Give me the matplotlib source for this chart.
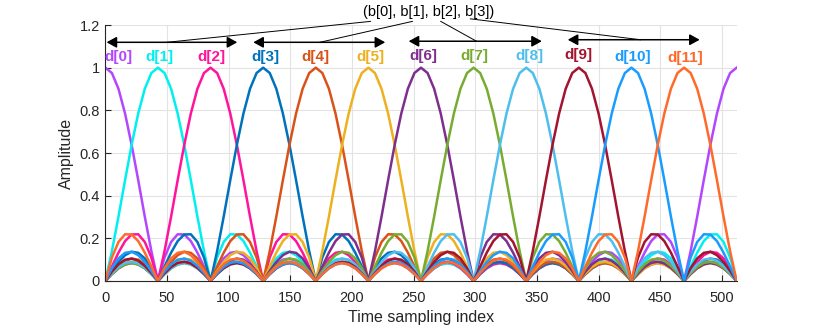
import numpy as np
import matplotlib
matplotlib.use('Agg')
import matplotlib.pyplot as plt

plt.rcParams['font.family'] = ['Liberation Sans', 'DejaVu Sans']

# one pulse: amplitude every 1/8 of a lobe (512/96 samples),
# from the peak out to the middle of the period; the other half is its mirror image
half_pulse = [1.0, 0.975, 0.901, 0.785, 0.638, 0.473, 0.302, 0.140, 0.0,
              0.110, 0.183, 0.219, 0.218, 0.187, 0.133, 0.068, 0.0,
              0.060, 0.106, 0.132, 0.137, 0.121, 0.089, 0.047, 0.0,
              0.044, 0.078, 0.100, 0.105, 0.095, 0.071, 0.038, 0.0,
              0.036, 0.066, 0.085, 0.090, 0.082, 0.062, 0.033, 0.0,
              0.033, 0.060, 0.078, 0.084, 0.077, 0.059, 0.032, 0.0]
period = 512
pulse_labels = ['d[0]', 'd[1]', 'd[2]', 'd[3]', 'd[4]', 'd[5]',
                'd[6]', 'd[7]', 'd[8]', 'd[9]', 'd[10]', 'd[11]']
group_label = '(b[0], b[1], b[2], b[3])'

colors = ['#b347ff', '#00f0f0', '#ff149b', '#0072bd', '#d95319', '#edb120',
          '#7e2f8e', '#77ac30', '#4dbeee', '#a2142f', '#1a9cff', '#ff6a2a']
label_x = [11, 44, 86, 130, 170, 215, 258, 299, 344, 384, 428, 470]
label_y = [1.05, 1.05, 1.05, 1.05, 1.05, 1.05, 1.055, 1.055, 1.055, 1.06, 1.05, 1.045]

# arrows (x0, x1, y) and the leader lines from the text to each arrow
arrows = [(1, 107, 1.119), (120, 227, 1.119), (246, 354, 1.124), (375, 482, 1.131)]
leaders = [((215, 1.217), (50, 1.119)), ((249, 1.217), (174, 1.119)),
           ((272, 1.217), (301, 1.124)), ((296, 1.229), (434, 1.131))]

n_lobe = 8
profile = np.array(half_pulse[:-1] + half_pulse[:0:-1])  # one full period, 96 points
x = np.arange(len(profile) + 1) * period / len(profile)

fig = plt.figure(figsize=(8.14, 3.27), dpi=100)
ax = fig.add_axes([0.1294, 0.1407, 0.7756, 0.7828])

for k, (lab, c) in enumerate(zip(pulse_labels, colors)):
    y = np.roll(profile, k * n_lobe)
    y = np.append(y, y[0])
    ax.plot(x, y, color=c, linewidth=1.8, solid_joinstyle='round')
    ax.text(label_x[k], label_y[k], lab, color=c, fontsize=11, fontweight='bold',
            ha='center', va='center')

for x0, x1, yy in arrows:
    ax.annotate('', xy=(x1, yy), xytext=(x0, yy),
                arrowprops=dict(arrowstyle='<|-|>,head_length=0.6,head_width=0.33',
                                color='black', lw=1.1, shrinkA=0, shrinkB=0),
                annotation_clip=False)
for (sx, sy), (ex, ey) in leaders:
    ax.plot([sx, ex], [sy, ey], color='black', linewidth=0.7, clip_on=False)
ax.text(262, 1.262, group_label, fontsize=10.5, ha='center', va='center')

ax.set_xlim(0, period)
ax.set_ylim(0, 1.2)
ax.set_xticks(np.arange(0, 501, 50))
ax.set_yticks([0, 0.2, 0.4, 0.6, 0.8, 1.0, 1.2])
ax.set_yticklabels(['0', '0.2', '0.4', '0.6', '0.8', '1', '1.2'])
ax.set_xlabel('Time sampling index', fontsize=11.5, color='#262626', labelpad=4)
ax.set_ylabel('Amplitude', fontsize=11.5, color='#262626', labelpad=4)
ax.grid(True, color='#e3e3e3', linewidth=0.8)
ax.set_axisbelow(True)
ax.tick_params(direction='in', length=4, labelsize=10.5, colors='#262626', pad=4)
ax.tick_params(axis='x', pad=7)
for side in ['top', 'right']:
    ax.spines[side].set_visible(False)
for side in ['left', 'bottom']:
    ax.spines[side].set_color('#262626')
    ax.spines[side].set_linewidth(0.8)

fig.savefig('out.png', dpi=100)
